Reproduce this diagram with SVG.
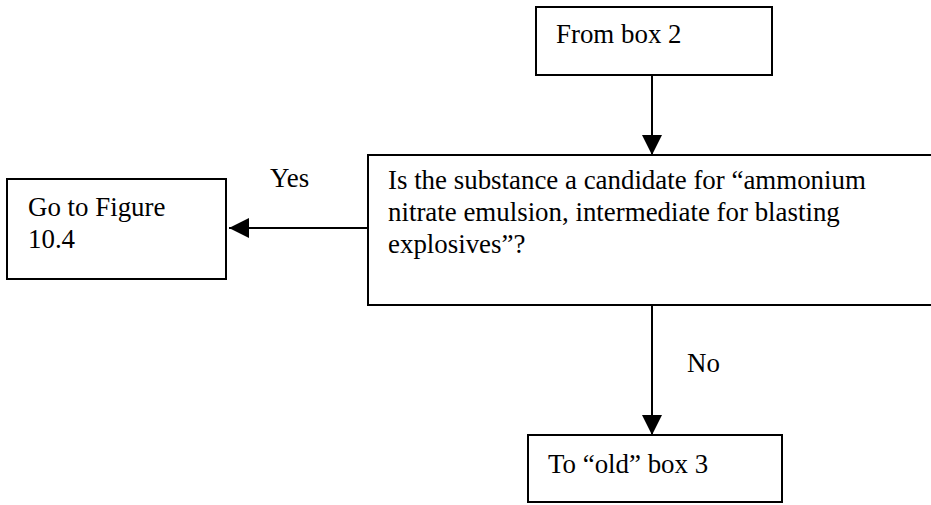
<svg xmlns="http://www.w3.org/2000/svg" width="931" height="505" viewBox="0 0 931 505">
<defs>
<style>
.box{fill:#fff;stroke:#000;stroke-width:2}
.t{font-family:'Liberation Serif','Times New Roman',serif;font-size:26.9px;fill:#000}
.ln{stroke:#000;stroke-width:2;fill:none}
</style>
<marker id="ah" markerWidth="20" markerHeight="20" viewBox="0 0 20 20" refX="20" refY="10" orient="auto" markerUnits="userSpaceOnUse">
<path d="M0,0 L20,10 L0,20 Z" fill="#000"/>
</marker>
</defs>
<rect width="931" height="505" fill="#fff"/>
<g id="box2">
<rect class="box" x="536" y="7" width="236" height="68"/>
<text class="t" x="556" y="43">From box 2</text>
</g>
<g id="decision">
<rect class="box" x="368" y="155" width="580" height="150"/>
<text class="t" x="388" y="189">Is the substance a candidate for “ammonium</text>
<text class="t" x="388" y="221">nitrate emulsion, intermediate for blasting</text>
<text class="t" x="388" y="253">explosives”?</text>
</g>
<g id="fig104">
<rect class="box" x="7" y="179" width="219" height="100"/>
<text class="t" x="28" y="216">Go to Figure</text>
<text class="t" x="28" y="248">10.4</text>
</g>
<g id="box3">
<rect class="box" x="528" y="435" width="254" height="67"/>
<text class="t" x="548" y="473">To “old” box 3</text>
</g>
<g id="connectors">
<line class="ln" x1="652" y1="75" x2="652" y2="155" marker-end="url(#ah)"/>
<line class="ln" x1="368" y1="228" x2="229" y2="228" marker-end="url(#ah)"/>
<text class="t" x="270" y="187">Yes</text>
<line class="ln" x1="652" y1="305" x2="652" y2="435" marker-end="url(#ah)"/>
<text class="t" x="687" y="372">No</text>
</g>
</svg>
